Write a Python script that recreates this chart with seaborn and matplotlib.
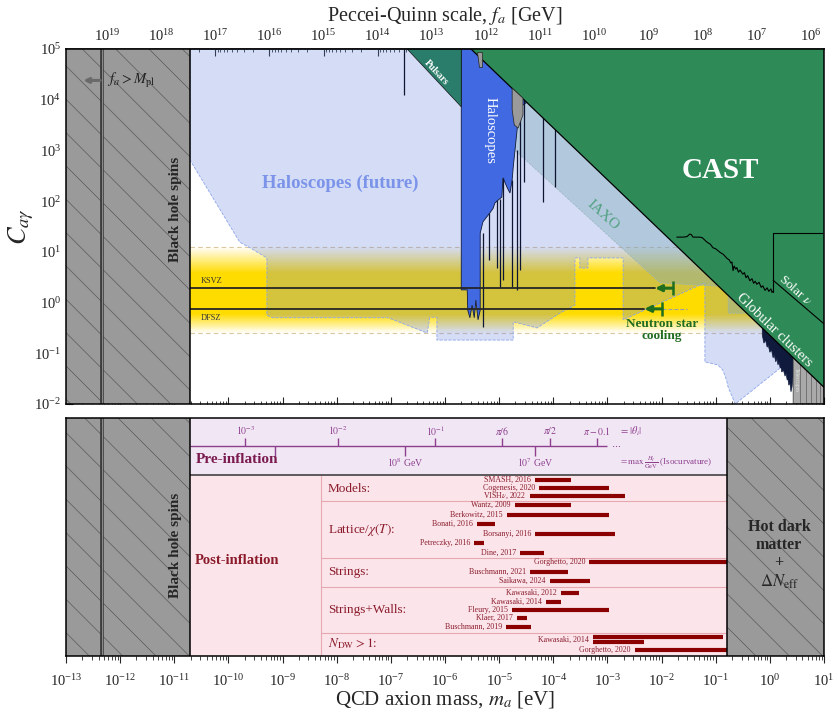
import numpy as np
import pandas as pd
import matplotlib
matplotlib.use("Agg")
import matplotlib.pyplot as plt
import matplotlib.ticker as mticker
import seaborn as sns

# Values.
# Limit curves are given as log10(m_a / eV) and log10(C_a_gamma).

# vertical bounds [eV]
bh_spin_ma = 1.95e-11      # black hole spins
planck_ma = 4.6e-13        # f_a = M_pl
hdm_ma = 0.162             # hot dark matter / Delta N_eff

# QCD band and benchmark models
band_C = [0.25, 12.6]
ksvz_C = 1.92
dfsz_C = 0.75
ns_cooling_ma = [0.0162, 0.0102]   # KSVZ, DFSZ
ns_arrow_ma = [0.0076, 0.0048]
ns_dfsz_dash_ma = 0.0295

# Haloscopes (future)
future_logm = [-10.71, -10.71, -9.79, -9.60, -9.29, -9.29, -9.18, -7.05, -6.33, -6.28,
               -6.15, -6.15, -4.74, -4.74, -4.30, -3.88, -3.60, -3.60, -3.51, -3.51,
               -3.36, -3.36, -2.71, -2.71, -1.20, -1.20, -0.96, -0.87, -0.80, -0.77,
               -0.64, 0.10, 0.37, 1.0, 1.0]
future_logC = [5.0, 2.81, 1.19, 1.08, 0.88, -0.25, -0.30, -0.30, -0.60, -0.29,
               -0.29, -0.74, -0.74, -0.38, -0.50, -0.21, -0.05, 0.88, 0.88, 0.68,
               0.68, 0.88, 0.88, -0.34, 0.39, -1.17, -1.23, -1.33, -1.53, -1.67,
               -2.0, -1.37, -1.13, -0.5, 5.0]

# IAXO
iaxo_logm = [-5.70, -2.03, -0.77, -0.77, -0.46, -0.46, -5.70]
iaxo_logC = [3.97, 0.39, 0.31, -0.21, -0.21, 5.0, 5.0]

# Globular clusters (everything above this line)
gc_logm = [-5.52, 1.0, 1.0]
gc_logC = [5.0, -1.67, 5.0]

# Pulsars
pulsar_logm = [-6.70, -5.70, -5.70]
pulsar_logC = [5.0, 3.86, 5.0]

# Haloscopes (current)
halo_logm = [-5.70, -4.43, -4.43, -4.61, -4.65, -4.74, -4.76, -4.80, -4.85, -4.93,
             -4.95, -5.02, -5.08, -5.11, -5.17, -5.30, -5.35, -5.35, -5.39, -5.43,
             -5.46, -5.50, -5.54, -5.58, -5.59, -5.70]
halo_logC = [5.0, 5.0, 3.99, 3.86, 3.60, 2.67, 2.42, 2.16, 2.26, 2.46,
             2.08, 2.02, 1.96, 1.86, 1.77, 1.59, 1.37, -0.15, -0.34, 0.05,
             -0.30, -0.05, -0.30, -0.15, 0.25, 0.25]
spike_logm = [-5.30, -5.19, -5.04, -4.98, -4.93, -4.76, -4.67, -4.61, -4.54, -4.19, -3.97, -6.76]
spike_top = [1.37, 1.77, 2.02, 2.05, 2.46, 2.42, 3.00, 3.86, 3.99, 3.66, 3.42, 5.0]
spike_bot = [-0.48, 0.84, 0.68, 0.31, 0.44, 0.31, 0.25, 0.64, 2.38, 1.98, 2.28, 4.09]
gray1_logm = [-5.41, -5.32, -5.32, -5.38]
gray1_logC = [4.94, 4.94, 4.65, 4.65]
gray2_logm = [-4.76, -4.56, -4.56, -4.65, -4.72, -4.76]
gray2_logC = [4.23, 4.03, 3.70, 3.44, 3.50, 3.80]

# haloscopes near 1 eV and telescopes
dark_logm = [-0.14, 0.43, 0.43, 0.41, 0.39, 0.37, 0.35, 0.33, 0.32, 0.30, 0.28, 0.25,
             0.22, 0.20, 0.19, 0.17, 0.15, 0.13, 0.11, 0.08, 0.06, 0.03, 0.00, -0.03,
             -0.05, -0.08, -0.11, -0.14]
dark_logC = [-0.49, -1.07, -1.43, -1.66, -1.76, -1.58, -1.63, -1.47, -1.53, -1.40, -1.45, -1.33,
             -1.37, -1.25, -1.29, -1.18, -1.23, -1.10, -1.17, -1.03, -1.09, -0.93, -0.98, -0.84,
             -0.88, -0.74, -0.80, -0.64]
tele_logm = [0.43, 0.43, 1.0, 1.0]
tele_logC = [-2.0, -1.07, -1.67, -2.0]
tele_line_logm = [0.56, 0.67, 0.76, 0.85, 0.93]

# CAST and solar neutrinos
cast_logm = [-1.72, -1.60, -1.53, -1.48, -1.45, -1.42, -1.30, -1.25, -1.16, -1.10, -1.05,
             -1.00, -0.92, -0.86, -0.79, -0.75, -0.72, -0.70, -0.68, -0.66, -0.63, -0.61,
             -0.58, -0.55, -0.50, -0.47, -0.44, -0.41, -0.37, -0.33, -0.30, -0.27, -0.24,
             -0.20, -0.16, -0.13, -0.09, -0.05, -0.02, 0.02, 0.04, 0.06]
cast_logC = [1.29, 1.29, 1.30, 1.35, 1.34, 1.29, 1.29, 1.28, 1.19, 1.15, 1.08,
             1.06, 0.99, 0.95, 0.87, 0.84, 0.78, 0.80, 0.63, 0.72, 0.66, 0.69,
             0.60, 0.64, 0.56, 0.59, 0.49, 0.53, 0.43, 0.47, 0.38, 0.42, 0.36,
             0.40, 0.30, 0.33, 0.24, 0.29, 0.22, 0.27, 0.20, 0.22]
solar_box_logm = [0.06, 0.06, 1.0]
solar_box_logC = [0.21, 1.37, 1.37]
solar_line_logm = [0.06, 1.0]
solar_line_logC = [0.44, -0.42]

# axis decades
ma_ticks = [10.0 ** k for k in range(-13, 2)]
C_ticks = [10.0 ** k for k in range(-2, 6)]
fa_ticks = [10.0 ** k for k in range(6, 20)]

# Pre-inflation scale
theta_labels = [r'$10^{-3}$', r'$10^{-2}$', r'$10^{-1}$', r'$\pi/6$', r'$\pi/2$', r'$\pi-0.1$']
theta_logm = [-9.69, -7.98, -6.18, -4.95, -4.06, -3.19]
hi_labels = ['', r'$10^8$ GeV', r'$10^7$ GeV']
hi_logm = [-9.14, -6.74, -4.34]
pre_end_logm = -3.01

# Post-inflation predictions [eV]
bar_names = ['SMASH, 2016', 'Cogenesis, 2020', r'VISH$\nu$, 2022',
             'Wantz, 2009', 'Berkowitz, 2015', 'Bonati, 2016', 'Borsanyi, 2016',
             'Petreczky, 2016', 'Dine, 2017',
             'Gorghetto, 2020', 'Buschmann, 2021', 'Saikawa, 2024',
             'Kawasaki, 2012', 'Kawasaki, 2014', 'Fleury, 2015', 'Klaer, 2017', 'Buschmann, 2019',
             'Kawasaki, 2014', '', 'Gorghetto, 2020']
bar_start = [4.6e-5, 5.5e-5, 3.7e-5,
             1.95e-5, 1.4e-5, 3.9e-6, 4.6e-5, 3.5e-6, 2.45e-5,
             4.6e-4, 3.7e-5, 8.7e-5,
             1.4e-4, 7.4e-5, 1.74e-5, 2.1e-5, 1.35e-5,
             5.4e-4, 5.4e-4, 3.2e-3]
bar_end = [2.1e-4, 1.07e-3, 2.1e-3,
           2.1e-4, 1.07e-3, 8.3e-6, 1.4e-3, 5.2e-6, 6.8e-5,
           0.162, 1.86e-4, 4.8e-4,
           3.0e-4, 1.4e-4, 1.07e-3, 3.2e-5, 3.9e-5,
           0.135, 4.8e-3, 0.162]
category_names = ['Models:', r'Lattice/$\chi(T)$:', 'Strings:', 'Strings+Walls:', r'$N_{\rm DW}>1$:']

# layout of the lower panel (rows counted downward from its top edge)
bar_rows = [62, 70, 78, 87, 97, 106, 116, 125, 135, 144, 154, 163, 175, 184, 192, 200, 209, 219, 224, 232]
label_shift = [0] * 17 + [2.5, 0, 0]
category_rows = [71, 112, 154, 192, 226]
separator_rows = [83, 140, 169, 215]
pre_post_row = 57
panel_rows = 238


def tenpow(a):
    return 10.0 ** np.asarray(a, dtype=float)


def ma_to_fa(m):
    m = np.asarray(m, dtype=float)
    out = np.full_like(m, np.inf)
    ok = m > 0
    out[ok] = 5.7e6 / m[ok]
    return out


def minor_between(decades):
    return [d * s for d in decades for s in range(2, 10)]


sns.set_style("ticks")
plt.rcParams['font.family'] = ['Liberation Serif', 'DejaVu Serif']
plt.rcParams['mathtext.fontset'] = 'stix'
plt.rcParams['hatch.linewidth'] = 0.5
plt.rcParams['axes.linewidth'] = 1.1

fig = plt.figure(figsize=(8.38, 7.14), dpi=100)
ax = fig.add_axes([0.0788, 0.4342, 0.9045, 0.4972])
axb = fig.add_axes([0.0788, 0.0812, 0.9045, 0.3334])

GRAY = '#9a9a9a'
HATCH = '#5a5a5a'
RED = '#8b1a2b'
PURPLE = '#8e3f8e'

# ---------------- top panel ----------------
ax.set_xscale('log')
ax.set_yscale('log')
ax.set_xlim(1e-13, 10)
ax.set_ylim(1e-2, 1e5)

# QCD axion band (yellow gradient)
lo_b, hi_b = np.log10(band_C)
edges = np.linspace(lo_b, hi_b, 120)
mids = 0.5 * (edges[1:] + edges[:-1])
alphas = np.interp(mids, [lo_b, lo_b + 0.38, hi_b - 0.52, hi_b], [0, 1, 1, 0])
for e0, e1, al in zip(edges[:-1], edges[1:], alphas):
    ax.fill_between([bh_spin_ma, 10], 10 ** e0, 10 ** e1, color='#ffdc00', alpha=al,
                    lw=0, antialiased=False, zorder=1)
ax.hlines(band_C, bh_spin_ma, 10, colors='#d9c7a0', linestyles=(0, (4, 3)), lw=0.8, zorder=1.5)

ax.fill(tenpow(future_logm), tenpow(future_logC), facecolor=(0.38, 0.50, 0.87, 0.27),
        edgecolor='#8ea5ea', linestyle='--', lw=0.6, zorder=2)
ax.fill(tenpow(iaxo_logm), tenpow(iaxo_logC), facecolor=(0.52, 0.68, 0.72, 0.42),
        edgecolor='#9ab5bb', linestyle='--', lw=0.5, zorder=2.5)

ax.fill(tenpow(halo_logm), tenpow(halo_logC), facecolor='#4169e1', edgecolor='#121a3a',
        lw=0.6, zorder=3)
ax.vlines(tenpow(spike_logm), tenpow(spike_bot), tenpow(spike_top), colors='#0d1533',
          lw=0.9, zorder=3.1)
ax.fill(tenpow(dark_logm), tenpow(dark_logC), facecolor='#101a3c', edgecolor='#101a3c',
        lw=0.5, zorder=3.2)
ax.fill(tenpow(tele_logm), tenpow(tele_logC), facecolor='#a9a9a9', edgecolor='#333333',
        lw=0.5, zorder=3.3)
tele_top = np.interp(tele_line_logm, gc_logm[:2], gc_logC[:2])
ax.vlines(tenpow(tele_line_logm), 1e-2, tenpow(tele_top), colors='#6a6a6a', lw=0.6, zorder=3.4)

ax.fill(tenpow(gc_logm), tenpow(gc_logC), facecolor='#2e8b57', edgecolor='none', zorder=4)
ax.fill(tenpow(pulsar_logm), tenpow(pulsar_logC), facecolor='#2a7d6a', edgecolor='#111111',
        lw=0.5, zorder=4.1)
ax.plot(tenpow(gc_logm[:2]), tenpow(gc_logC[:2]), color='k', lw=0.9, zorder=4.5)
sns.lineplot(x=tenpow(cast_logm), y=tenpow(cast_logC), ax=ax, color='k', lw=0.8,
             sort=False, estimator=None, zorder=4.5)
ax.plot(tenpow(solar_box_logm), tenpow(solar_box_logC), color='k', lw=0.8, zorder=4.5)
ax.plot(tenpow(solar_line_logm), tenpow(solar_line_logC), color='k', lw=0.8, zorder=4.5)
for gm, gcv in [(gray1_logm, gray1_logC), (gray2_logm, gray2_logC)]:
    ax.fill(tenpow(gm), tenpow(gcv), facecolor='#9a9a9a', edgecolor='#222222', lw=0.5, zorder=4.6)

# benchmark models and neutron star cooling
bm = pd.DataFrame({'m': [bh_spin_ma, ns_arrow_ma[0], bh_spin_ma, ns_arrow_ma[1]],
                   'C': [ksvz_C, ksvz_C, dfsz_C, dfsz_C],
                   'model': ['KSVZ', 'KSVZ', 'DFSZ', 'DFSZ']})
sns.lineplot(data=bm, x='m', y='C', units='model', estimator=None, color='#262626',
             lw=1.3, ax=ax, zorder=5)
ax.plot([ns_cooling_ma[1], ns_dfsz_dash_ma], [dfsz_C, dfsz_C], ls='--', color='#a0a0a0',
        lw=0.8, zorder=4.9)
for mc, mh, cv in zip(ns_cooling_ma, ns_arrow_ma, [ksvz_C, dfsz_C]):
    ax.annotate('', xy=(mh, cv), xytext=(mc, cv), zorder=5.5,
                arrowprops=dict(arrowstyle='-|>', color='#1f6e1f', lw=2.2,
                                mutation_scale=9, shrinkA=0, shrinkB=0))
    ax.plot([mc], [cv], marker='|', ms=10, mew=1.8, color='#1f6e1f', zorder=5.5)

# excluded regions on the left
ax.axvspan(1e-13, bh_spin_ma, facecolor=GRAY, edgecolor=HATCH, hatch='\\', lw=0, zorder=5.8)
ax.axvline(bh_spin_ma, color='k', lw=1.1, zorder=5.9)
ax.axvline(planck_ma, color='#333333', lw=2.6, zorder=5.9)
ax.axvline(planck_ma, color='#8a8a8a', lw=0.9, zorder=5.95)
ax.annotate('', xy=(10 ** -12.68, 10 ** 4.38), xytext=(10 ** -12.37, 10 ** 4.38), zorder=7,
            arrowprops=dict(arrowstyle='-|>', color='#6a6a6a', lw=2.2, mutation_scale=7,
                            shrinkA=0, shrinkB=0))
ax.text(10 ** -12.25, 10 ** 4.37, r'$f_a > M_{\rm pl}$', fontsize=10.5, ha='left', va='center',
        color='#222222', zorder=7)

# labels
ax.text(10 ** -10.97, 10 ** 1.83, 'Black hole spins', rotation=90, ha='center', va='center',
        fontsize=11, fontweight='bold', zorder=7)
ax.text(10 ** -7.94, 10 ** 2.36, 'Haloscopes (future)', ha='center', va='center',
        fontsize=13.5, fontweight='bold', color='#7b94e9', zorder=7)
ax.text(10 ** -5.17, 10 ** 3.40, 'Haloscopes', rotation=-90, ha='center', va='center',
        fontsize=10.5, color='white', zorder=7)
ax.text(10 ** -6.17, 10 ** 4.53, 'Pulsars', rotation=-47, ha='center', va='center',
        fontsize=7, fontweight='bold', color='white', zorder=7)
ax.text(10 ** -0.92, 10 ** 2.61, 'CAST', ha='center', va='center', fontsize=21,
        fontweight='bold', color='white', zorder=7)
ax.text(10 ** -3.08, 10 ** 1.73, 'IAXO', rotation=-42, ha='center', va='center',
        fontsize=11, color='#3f9a72', alpha=0.85, zorder=7)
ax.text(10 ** 0.47, 10 ** 0.25, r'Solar $\nu$', rotation=-42, ha='center', va='center',
        fontsize=9.5, color='white', zorder=7)
ax.text(10 ** 0.08, 10 ** -0.54, 'Globular clusters', rotation=-44, ha='center', va='center',
        fontsize=10.5, color='white', zorder=7)
ax.text(10 ** -1.99, 10 ** -0.55, 'Neutron star\ncooling', ha='center', va='center',
        fontsize=9.5, fontweight='bold', color='#1f6b1f', linespacing=1.0, zorder=7)
ax.text(10 ** -10.52, 10 ** 0.43, 'KSVZ', fontsize=6, color='#333333', va='center', zorder=7)
ax.text(10 ** -10.52, 10 ** -0.30, 'DFSZ', fontsize=6, color='#333333', va='center', zorder=7)
ax.text(10 ** 0.50, 10 ** -1.53, 'Telescopes', rotation=-90, ha='center', va='center',
        fontsize=4, color='#e6e6e6', zorder=7)

ax.set_xlabel('')
ax.set_ylabel(r'$C_{a\gamma}$', fontsize=19, labelpad=-1)
ax.xaxis.set_major_locator(mticker.FixedLocator(ma_ticks))
ax.xaxis.set_minor_locator(mticker.FixedLocator(minor_between(ma_ticks[:-1])))
ax.yaxis.set_major_locator(mticker.FixedLocator(C_ticks))
ax.yaxis.set_minor_locator(mticker.FixedLocator(minor_between(C_ticks[:-1])))
ax.yaxis.set_major_formatter(mticker.LogFormatterSciNotation())
ax.tick_params(axis='x', which='both', direction='in', labelbottom=False, top=False)
ax.tick_params(axis='y', which='both', direction='in', right=False, labelsize=10.5)
ax.tick_params(which='major', length=5, width=0.8)
ax.tick_params(which='minor', length=2.5, width=0.6)

secax = ax.secondary_xaxis('top', functions=(ma_to_fa, ma_to_fa))
secax.xaxis.set_major_locator(mticker.FixedLocator(fa_ticks))
secax.xaxis.set_minor_locator(mticker.FixedLocator(minor_between([1e5] + fa_ticks[:-1])))
secax.xaxis.set_major_formatter(mticker.LogFormatterSciNotation())
secax.tick_params(which='both', direction='in', labelsize=10.5)
secax.tick_params(which='major', length=5, width=0.8)
secax.tick_params(which='minor', length=2.5, width=0.6)
secax.set_xlabel(r'Peccei-Quinn scale, $f_a$ [GeV]', fontsize=14.5, labelpad=5)

for sp in ax.spines.values():
    sp.set_color('k')
    sp.set_zorder(10)

# ---------------- bottom panel ----------------
axb.set_xscale('log')
axb.set_xlim(1e-13, 10)
axb.set_ylim(panel_rows, 0)
axb.set_yticks([])

axb.fill_between([bh_spin_ma, hdm_ma], 0, pre_post_row, color='#f1e6f4', lw=0, zorder=0)
axb.fill_between([bh_spin_ma, hdm_ma], pre_post_row, panel_rows, color='#fbe5ea', lw=0, zorder=0)
axb.hlines(pre_post_row, bh_spin_ma, hdm_ma, color='#333333', lw=1.1, zorder=2)

sep_m = 10 ** -8.29
axb.vlines(sep_m, pre_post_row, panel_rows, color='#e6a9b2', lw=0.8, zorder=1)
axb.hlines(separator_rows, sep_m, hdm_ma, color='#e6a9b2', lw=0.8, zorder=1)

# pre-inflation scale
axb.hlines(28, bh_spin_ma, 10 ** pre_end_logm, color=PURPLE, lw=1.0, zorder=2)
axb.vlines(tenpow(theta_logm), 20, 28, color=PURPLE, lw=1.0, zorder=2)
axb.vlines(tenpow(hi_logm), 28, 38, color=PURPLE, lw=1.0, zorder=2)
for lab, lm in zip(theta_labels, theta_logm):
    axb.text(10 ** lm, 13, lab, ha='center', va='center', fontsize=7, color=PURPLE)
for lab, lm in zip(hi_labels, hi_logm):
    axb.text(10 ** lm, 45, lab, ha='center', va='center', fontsize=7, color=PURPLE)
axb.text(10 ** (pre_end_logm + 0.08), 27, r'$\cdots$', ha='left', va='center', fontsize=7,
         color=PURPLE)
axb.text(10 ** -2.79, 13, r'$= |\theta_i|$', ha='left', va='center', fontsize=7.5, color=PURPLE)
axb.text(10 ** -2.79, 45, r'$= \max\,\frac{H_I}{\rm GeV}$ (Isocurvature)', ha='left',
         va='center', fontsize=6.5, color=PURPLE)
axb.text(10 ** -10.60, 42, 'Pre-inflation', ha='left', va='center', fontsize=11,
         fontweight='bold', color='#7a1a4f')
axb.text(10 ** -9.84, 142, 'Post-inflation', ha='center', va='center', fontsize=10.5,
         fontweight='bold', color=RED)

for lab, row in zip(category_names, category_rows):
    axb.text(10 ** -8.16, row, lab, ha='left', va='center', fontsize=9.5, color=RED)

axb.hlines(bar_rows, bar_start, bar_end, color='#8b0000', lw=3, zorder=3)
for name, m0, row, dy in zip(bar_names, bar_start, bar_rows, label_shift):
    if name:
        axb.annotate(name, xy=(m0, row + dy), xytext=(-3, 0), textcoords='offset points',
                     ha='right', va='center', fontsize=5.7, color=RED)

# excluded regions
axb.axvspan(1e-13, bh_spin_ma, facecolor=GRAY, edgecolor=HATCH, hatch='\\', lw=0, zorder=4)
axb.axvspan(hdm_ma, 10, facecolor=GRAY, edgecolor=HATCH, hatch='\\', lw=0, zorder=4)
axb.axvline(bh_spin_ma, color='k', lw=1.1, zorder=5)
axb.axvline(hdm_ma, color='k', lw=1.1, zorder=5)
axb.axvline(planck_ma, color='#333333', lw=2.6, zorder=5)
axb.axvline(planck_ma, color='#8a8a8a', lw=0.9, zorder=5.1)
axb.text(10 ** -10.97, panel_rows / 2 + 8, 'Black hole spins', rotation=90, ha='center',
         va='center', fontsize=11, fontweight='bold', zorder=6)
axb.text(10 ** 0.17, panel_rows / 2 + 8, 'Hot dark\nmatter\n+', ha='center', va='center',
         fontsize=11.5, fontweight='bold', linespacing=1.2, zorder=6)
axb.text(10 ** 0.17, panel_rows / 2 + 45, r'$\Delta N_{\rm eff}$', ha='center', va='center',
         fontsize=12, zorder=6)

axb.xaxis.set_major_locator(mticker.FixedLocator(ma_ticks))
axb.xaxis.set_minor_locator(mticker.FixedLocator(minor_between(ma_ticks[:-1])))
axb.xaxis.set_major_formatter(mticker.LogFormatterSciNotation())
axb.tick_params(axis='x', which='both', direction='out', labelsize=10.5, top=False, pad=7)
axb.tick_params(which='major', length=5, width=0.8)
axb.tick_params(which='minor', length=3, width=0.6)
axb.set_xlabel(r'QCD axion mass, $m_a$ [eV]', fontsize=15, labelpad=0)
for sp in axb.spines.values():
    sp.set_color('k')
    sp.set_zorder(10)

fig.savefig('out.png', dpi=100)
